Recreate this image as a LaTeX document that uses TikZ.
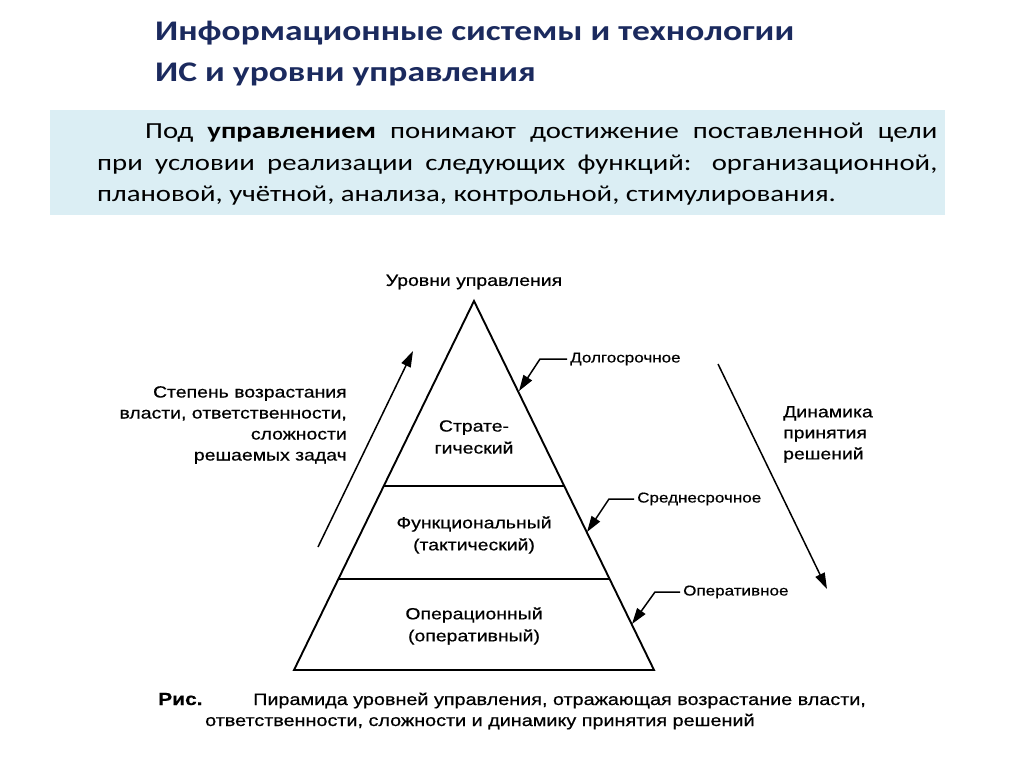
\documentclass[tikz,border=0pt]{standalone}
\usepackage{fontspec}
\setmainfont{Carlito}[FakeStretch=1.25]
\newfontfamily\arialfont{Liberation Sans}[FakeStretch=1.2, FakeBold=0.6]
\usetikzlibrary{arrows.meta,calc}

\definecolor{titleblue}{HTML}{1B2A5E}
\definecolor{boxblue}{HTML}{DBEEF4}

\def \tipShape {Triangle[length=16pt,width=10pt]}
\def \lblSize {\fontsize{16.2}{22}\selectfont}

\tikzset{
  title/.style={anchor=base west, inner sep=0, text=titleblue,
    font=\bfseries\fontsize{28.4}{28}\selectfont},
  lbl/.style={inner sep=0, align=center, font=\arialfont\lblSize},
  term/.style={inner sep=0, anchor=west, font=\arialfont\fontsize{14.2}{18}\selectfont},
  caption/.style={anchor=base west, inner sep=0, font=\arialfont\fontsize{16.5}{17}\selectfont},
  edge/.style={line width=1.9pt},
  callout/.style={line width=1.5pt, -{\tipShape}},
}

\begin{document}
\begin{tikzpicture}[x=1pt,y=-1pt]
  \useasboundingbox[fill=white] (0,0) rectangle (1024,767);

  % title
  \node[title] (title1) at (155,41) {Информационные системы и технологии};
  \node[title] (title2) at (155,82) {ИС и уровни управления};

  % definition box
  \fill[boxblue] (50,110) rectangle (945,215);
  \node[anchor=base west, inner sep=0, text width=840pt, align=justify,
        font=\fontsize{23}{31.5}\selectfont] (deftext) at (97,139)
    {\hspace*{48pt}Под \textbf{управлением} понимают достижение поставленной цели\linebreak
     при условии реализации следующих функций: организационной,\linebreak
     плановой, учётной, анализа, контрольной, стимулирования.};

  % pyramid
  \coordinate (apex) at (474,301);
  \coordinate (bl) at (294,670);
  \coordinate (br) at (654,670);
  \draw[edge, line join=miter] (bl) -- (apex) -- (br) -- cycle;
  \draw[edge] ($(apex)!0.5014!(bl)$) coordinate (s1l) -- ($(apex)!0.5014!(br)$) coordinate (s1r);
  \draw[edge] ($(apex)!0.7534!(bl)$) coordinate (s2l) -- ($(apex)!0.7534!(br)$) coordinate (s2r);

  \node[lbl] (levels) at (474,282) {Уровни управления};
  \node[lbl] (strat) at (474,437) {Страте-\\гический};
  \node[lbl] (func) at (474,535) {Функциональный\\(тактический)};
  \node[lbl] (oper) at (474,626) {Операционный\\(оперативный)};

  % left side
  \node[lbl, align=right, anchor=north east, font=\arialfont\fontsize{16.2}{21}\selectfont]
    (growth) at (347,386) {Степень возрастания\\власти, ответственности,\\сложности\\решаемых задач};
  \coordinate (growS) at (318,547);
  \coordinate (growN) at (413,351);
  \draw[callout] (growS) -- (growN);

  % right side
  \node[lbl, align=left, anchor=north west, font=\arialfont\fontsize{16.2}{21}\selectfont]
    (dyn) at (783,406) {Динамика\\принятия\\решений};
  \coordinate (dynN) at (718,364);
  \coordinate (dynS) at (827,589);
  \draw[callout] (dynN) -- (dynS);

  % terms
  \node[term] (longterm) at (570,359) {Долгосрочное};
  \node[term] (midterm) at (637,499) {Среднесрочное};
  \node[term] (opterm) at (683,592) {Оперативное};
  \coordinate (ltTip) at (519,391);
  \coordinate (mtTip) at (587,532);
  \coordinate (otTip) at (632,624);
  \draw[callout] ([xshift=-3pt]longterm.west) -- ++(-27,0) -- (ltTip);
  \draw[callout] ([xshift=-3pt]midterm.west) -- ++(-25,0) -- (mtTip);
  \draw[callout] ([xshift=-3pt]opterm.west) -- ++(-25,0) -- (otTip);

  % caption
  \node[caption, font=\arialfont\bfseries\fontsize{17.5}{17}\selectfont] (capfig) at (158,705) {Рис.};
  \node[caption] (cap1) at (253,705) {Пирамида уровней управления, отражающая возрастание власти,};
  \node[caption] (cap2) at (205,726) {ответственности, сложности и динамику принятия решений};
\end{tikzpicture}
\end{document}
